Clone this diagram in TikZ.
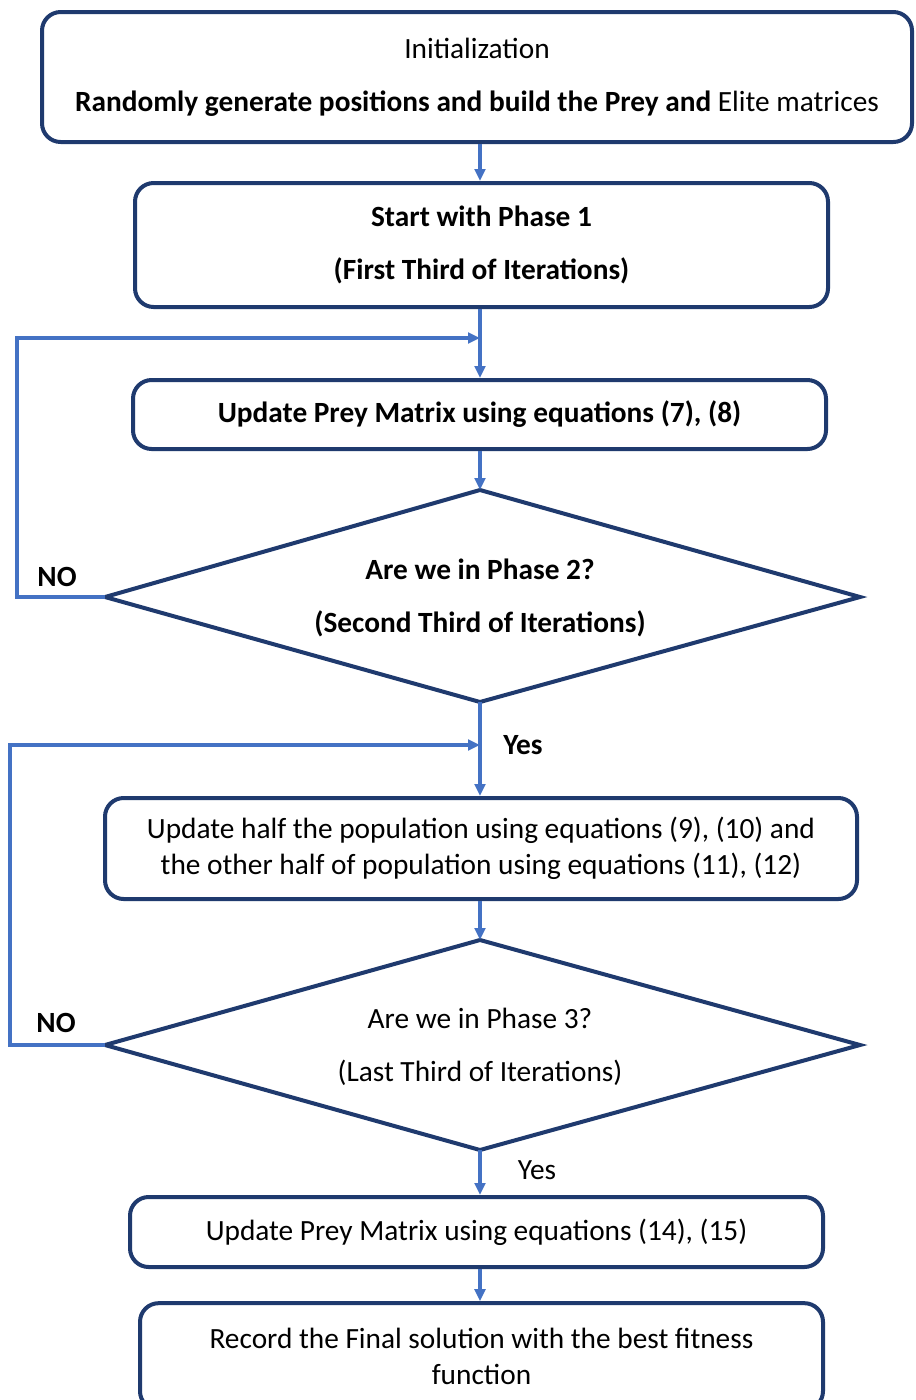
\documentclass[tikz,border=0pt]{standalone}
\usepackage{fontspec}
\setmainfont{Carlito}
\usetikzlibrary{arrows.meta}
\definecolor{boxc}{HTML}{1F3A6E}
\definecolor{arrc}{HTML}{4472C4}
\begin{document}
\begin{tikzpicture}[x=0.75pt,y=-0.75pt,
  box/.style={draw=boxc,line width=3pt,rounded corners=14pt,fill=white,align=center,font=\fontsize{22}{27}\selectfont,inner sep=0pt},
  diaedge/.style={draw=boxc,line width=3pt,line join=miter},
  txt/.style={align=center,font=\fontsize{22}{27}\selectfont,inner sep=0pt},
  arr/.style={draw=arrc,line width=2.3pt,-{Triangle[width=8pt,length=9pt]}},
  lab/.style={font=\fontsize{22}{27}\selectfont}]
\clip (0,0) rectangle (915,1400);
\useasboundingbox (0,0) rectangle (915,1400);
\fill[white] (0,0) rectangle (915,1400);

\node[box,minimum width=652.5pt,minimum height=97.5pt] (b1) at (477,77)
  {Initialization\\[13pt]\textbf{Randomly generate positions and build the Prey and} Elite matrices};
\node[box,minimum width=519.75pt,minimum height=93pt] (b2) at (481.5,245)
  {\textbf{Start with Phase 1}\\[13pt]\textbf{(First Third of Iterations)}};
\node[box,minimum width=519.75pt,minimum height=51.75pt] (b3) at (479.5,414.5)
  {\textbf{Update Prey Matrix using equations (7), (8)}};

% diamond 1
\coordinate (d1t) at (480,490);
\coordinate (d1l) at (105,597);
\coordinate (d1r) at (860,597);
\coordinate (d1b) at (480,702);
\draw[diaedge] (d1t) -- (d1r) -- (d1b) -- (d1l) -- cycle;
\node[txt] (d1) at (480,598) {\textbf{Are we in Phase 2?}\\[13pt]\textbf{(Second Third of Iterations)}};

\node[box,minimum width=564pt,minimum height=75.75pt] (b4) at (481,848.5)
  {Update half the population using equations (9), (10) and\\the other half of population using equations (11), (12)};

% diamond 2
\coordinate (d2t) at (480,940);
\coordinate (d2l) at (105,1045);
\coordinate (d2r) at (860,1045);
\coordinate (d2b) at (480,1150);
\draw[diaedge] (d2t) -- (d2r) -- (d2b) -- (d2l) -- cycle;
\node[txt] (d2) at (480,1047) {Are we in Phase 3?\\[13pt](Last Third of Iterations)};

\node[box,minimum width=519.75pt,minimum height=52.5pt] (b5) at (476.5,1232)
  {Update Prey Matrix using equations (14), (15)};
\node[box,minimum width=512.25pt,minimum height=80pt] (b6) at (481.5,1356.5)
  {Record the Final solution with the best fitness\\function};

\coordinate (j1) at (480,338);
\coordinate (j2) at (480,745);
\coordinate (c1a) at (17,597);
\coordinate (c2a) at (10,1045);

\draw[arr] (b1.south -| d1t) -- (b2.north -| d1t);
\draw[arr] (b2.south -| d1t) -- (b3.north -| d1t);
\draw[arr] (b3.south -| d1t) -- (d1t);
\draw[arr] (d1b) -- (b4.north -| d1b);
\draw[arr] (b4.south -| d2t) -- (d2t);
\draw[arr] (d2b) -- (b5.north -| d2b);
\draw[arr,line width=3.2pt] (b5.south -| d2b) -- (b6.north -| d2b);

\draw[arr] (d1l) -- (c1a) |- (j1);
\draw[arr] (d2l) -- (c2a) |- (j2);

\node[lab,font=\fontsize{22}{27}\selectfont\bfseries] (no1) at (57,577) {NO};
\node[lab,font=\fontsize{22}{27}\selectfont\bfseries] (no2) at (56,1023) {NO};
\node[lab,font=\fontsize{22}{27}\selectfont\bfseries] (yes1) at (523,745) {Yes};
\node[lab] (yes2) at (537,1170) {Yes};
\end{tikzpicture}
\end{document}
